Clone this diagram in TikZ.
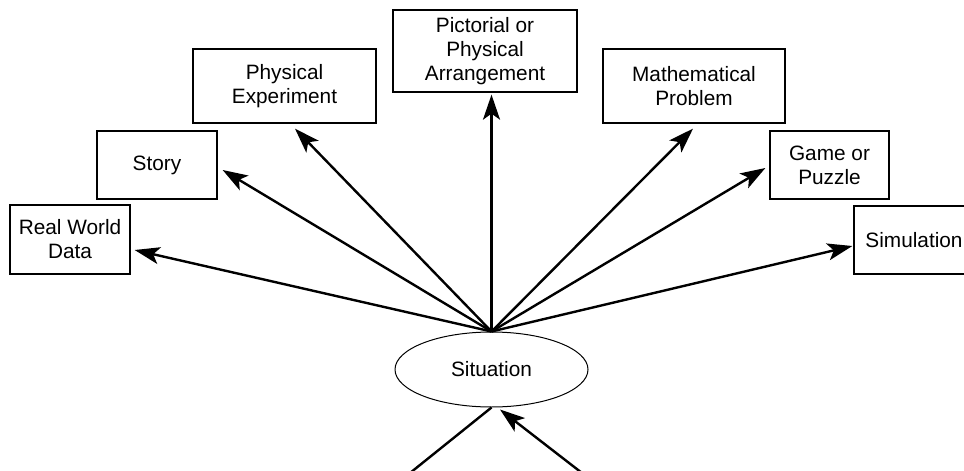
\documentclass[tikz,border=0pt]{standalone}
\usepackage{fontspec}
\setmainfont{Liberation Sans}
\usetikzlibrary{arrows.meta,shapes.geometric}
\begin{document}
\begin{tikzpicture}[x=1pt,y=-1pt,
  box/.style={draw,line width=1.3pt,inner sep=0pt,align=center,
    font=\fontsize{20.8}{24}\selectfont},
  arr/.style={line width=2.4pt,-{Stealth[length=25pt,width=17pt,inset=6pt]}},
  plain/.style={line width=2.4pt}]
\useasboundingbox (0,0) rectangle (964,471);
\node[box,minimum width=120pt,minimum height=69pt] (rwd) at (70,239.5) {Real World\\Data};
\node[box,minimum width=120pt,minimum height=68pt] (story) at (157,165) {Story};
\node[box,minimum width=183pt,minimum height=74pt] (pe) at (284.5,86) {Physical\\Experiment};
\node[box,minimum width=184pt,minimum height=82pt] (pic) at (485,51) {Pictorial or\\Physical\\Arrangement};
\node[box,minimum width=182pt,minimum height=74pt] (mp) at (694,86) {Mathematical\\Problem};
\node[box,minimum width=119pt,minimum height=68pt] (gp) at (829.5,165) {Game or\\Puzzle};
\node[box,minimum width=120pt,minimum height=68pt] (sim) at (914,240) {Simulation};
\node[draw,line width=1pt,ellipse,minimum width=193pt,minimum height=75pt,inner sep=0pt,
  font=\fontsize{20.8}{24}\selectfont] (sit) at (491.5,369.5) {Situation};
\coordinate (bl) at (410,473);
\coordinate (br) at (582,473);
\draw[arr] (sit.north) -- ([xshift=4pt,yshift=-10.5pt]rwd.east);
\draw[arr] (sit.north) -- ([xshift=5pt,yshift=-5pt]story.east);
\draw[arr] (sit.north) -- ([xshift=10.5pt,yshift=-5pt]pe.south);
\draw[arr] (sit.north) -- ([xshift=6.5pt,yshift=-2pt]pic.south);
\draw[arr] (sit.north) -- ([xshift=-1pt,yshift=-5pt]mp.south);
\draw[arr] (sit.north) -- ([xshift=-4pt,yshift=-3pt]gp.west);
\draw[arr] (sit.north) -- ([xshift=-1pt,yshift=-6pt]sim.west);
\draw[plain] (bl) -- (sit.south);
\draw[arr] (br) -- ([xshift=8.5pt,yshift=-2pt]sit.south);
\end{tikzpicture}
\end{document}
